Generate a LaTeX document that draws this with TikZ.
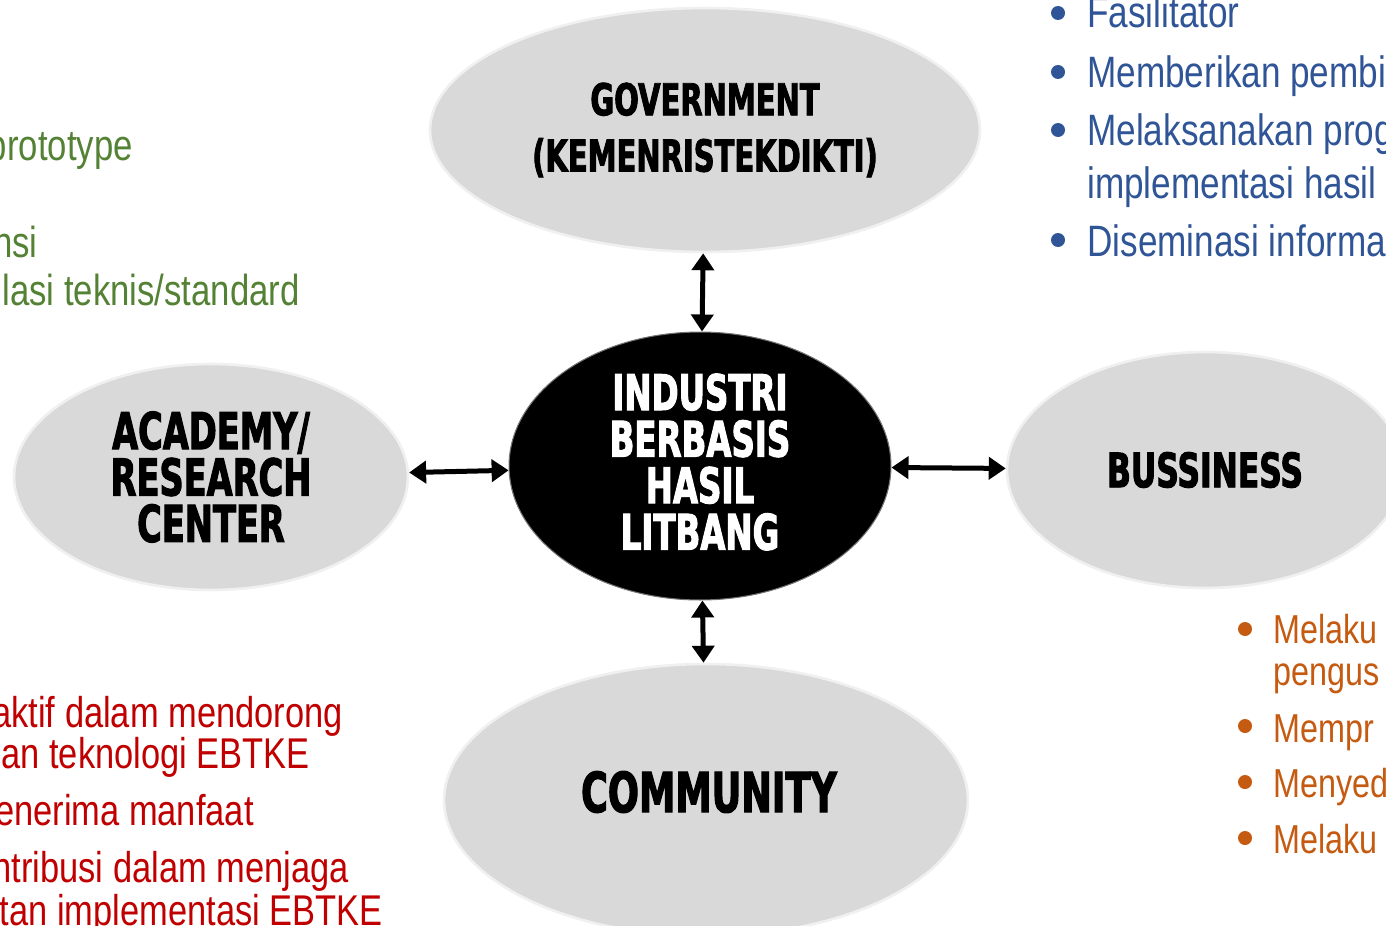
\documentclass[tikz,border=0pt]{standalone}
\usepackage{fontspec}
\usetikzlibrary{shapes.geometric,arrows.meta}
\newfontfamily\labelfont{DejaVu Sans}[UprightFont=* Bold,FakeStretch=0.66,FakeBold=2]
\newfontfamily\bodyfont{Liberation Sans}[FakeStretch=0.8]
\definecolor{govblue}{RGB}{47,85,151}
\definecolor{bizorange}{RGB}{197,90,17}
\definecolor{acagreen}{RGB}{84,130,53}
\definecolor{comred}{RGB}{192,0,0}
\definecolor{blobgray}{RGB}{217,217,217}
\tikzset{
  blob/.style={ellipse,fill=blobgray,draw=black!6,line width=1.5pt,inner sep=0pt,align=center,
    font=\labelfont\fontsize{25}{32}\selectfont},
  hub/.style={ellipse,fill=black,draw=black!55,line width=0.6pt,text=white,inner sep=0pt,align=center,
    font=\labelfont\fontsize{28}{26.5}\selectfont},
  link/.style={line width=0.1cm,{Triangle[width=0.44cm,length=0.34cm]}-{Triangle[width=0.44cm,length=0.34cm]}},
  note/.style={inner sep=0pt,anchor=base west},
  tail/.style={inner sep=0pt,anchor=base east},
}
\begin{document}
\begin{tikzpicture}[x=0.02cm,y=-0.02cm]
\useasboundingbox (0,0) rectangle (1386,926);
\clip (0,0) rectangle (1386,926);

\node[blob, minimum width=11cm,   minimum height=4.88cm] (gov) at (705,130) {GOVERNMENT\\(KEMENRISTEKDIKTI)};
\node[hub,  minimum width=7.64cm, minimum height=5.36cm] (hub) at (700,466) {};
\node[inner sep=0pt, text=white, align=center, font=\labelfont\fontsize{28}{26.5}\selectfont] (hubtxt) at (700,462) {INDUSTRI\\BERBASIS\\HASIL\\LITBANG};
\node[blob, minimum width=7.88cm, minimum height=4.52cm, font=\labelfont\fontsize{29}{26.4}\selectfont] (aca) at (211,477) {ACADEMY/\\RESEARCH\\CENTER};
\node[blob, minimum width=7.92cm, minimum height=4.72cm, font=\labelfont\fontsize{27}{27}\selectfont] (biz) at (1205,470) {BUSSINESS};
\node[blob, minimum width=10.48cm,minimum height=5.44cm] (com) at (706,800) {};
\node[inner sep=0pt, font=\labelfont\fontsize{31.5}{31.5}\selectfont] (comtxt) at (709,792) {COMMUNITY};

\draw[link] (gov) -- (hub);
\draw[link] (aca) -- (hub);
\draw[link] (hub) -- (biz);
\draw[link] (hub) -- (com);

% government roles
\begin{scope}[govblue, font=\bodyfont\fontsize{25}{25}\selectfont]
\foreach \y in {13,72,130,240} \fill (1058,\y) circle (7);
\foreach \y/\txt [count=\i] in {28/Fasilitator, 88/Memberikan pembi, 146/Melaksanakan prog,
    198/implementasi hasil, 256/Diseminasi informa}
  \node[note] (gov\i) at (1087,\y) {\txt};
\end{scope}

% business roles
\begin{scope}[bizorange, font=\bodyfont\fontsize{23}{23}\selectfont]
\foreach \y in {629,726,782,838} \fill (1245,\y) circle (7);
\foreach \y/\txt [count=\i] in {643/Melaku, 685/pengus, 742/Mempr, 797/Menyed, 853/Melaku}
  \node[note] (biz\i) at (1273,\y) {\txt};
\end{scope}

% academy roles
\begin{scope}[acagreen, font=\bodyfont\fontsize{24.7}{24.7}\selectfont]
\foreach \y/\x/\txt [count=\i] in {160/133/prototype, 257/38/nsi, 305/300/{lasi teknis/standard}}
  \node[tail] (aca\i) at (\x,\y) {\txt};
\end{scope}

% community roles
\begin{scope}[comred, font=\bodyfont\fontsize{24.5}{24.5}\selectfont]
\foreach \y/\x/\txt [count=\i] in {727/343/aktif dalam mendorong, 768/310/an teknologi EBTKE,
    825/254/enerima manfaat, 882/349/ntribusi dalam menjaga, 925/383/tan implementasi EBTKE}
  \node[tail] (com\i) at (\x,\y) {\txt};
\end{scope}
\end{tikzpicture}
\end{document}
